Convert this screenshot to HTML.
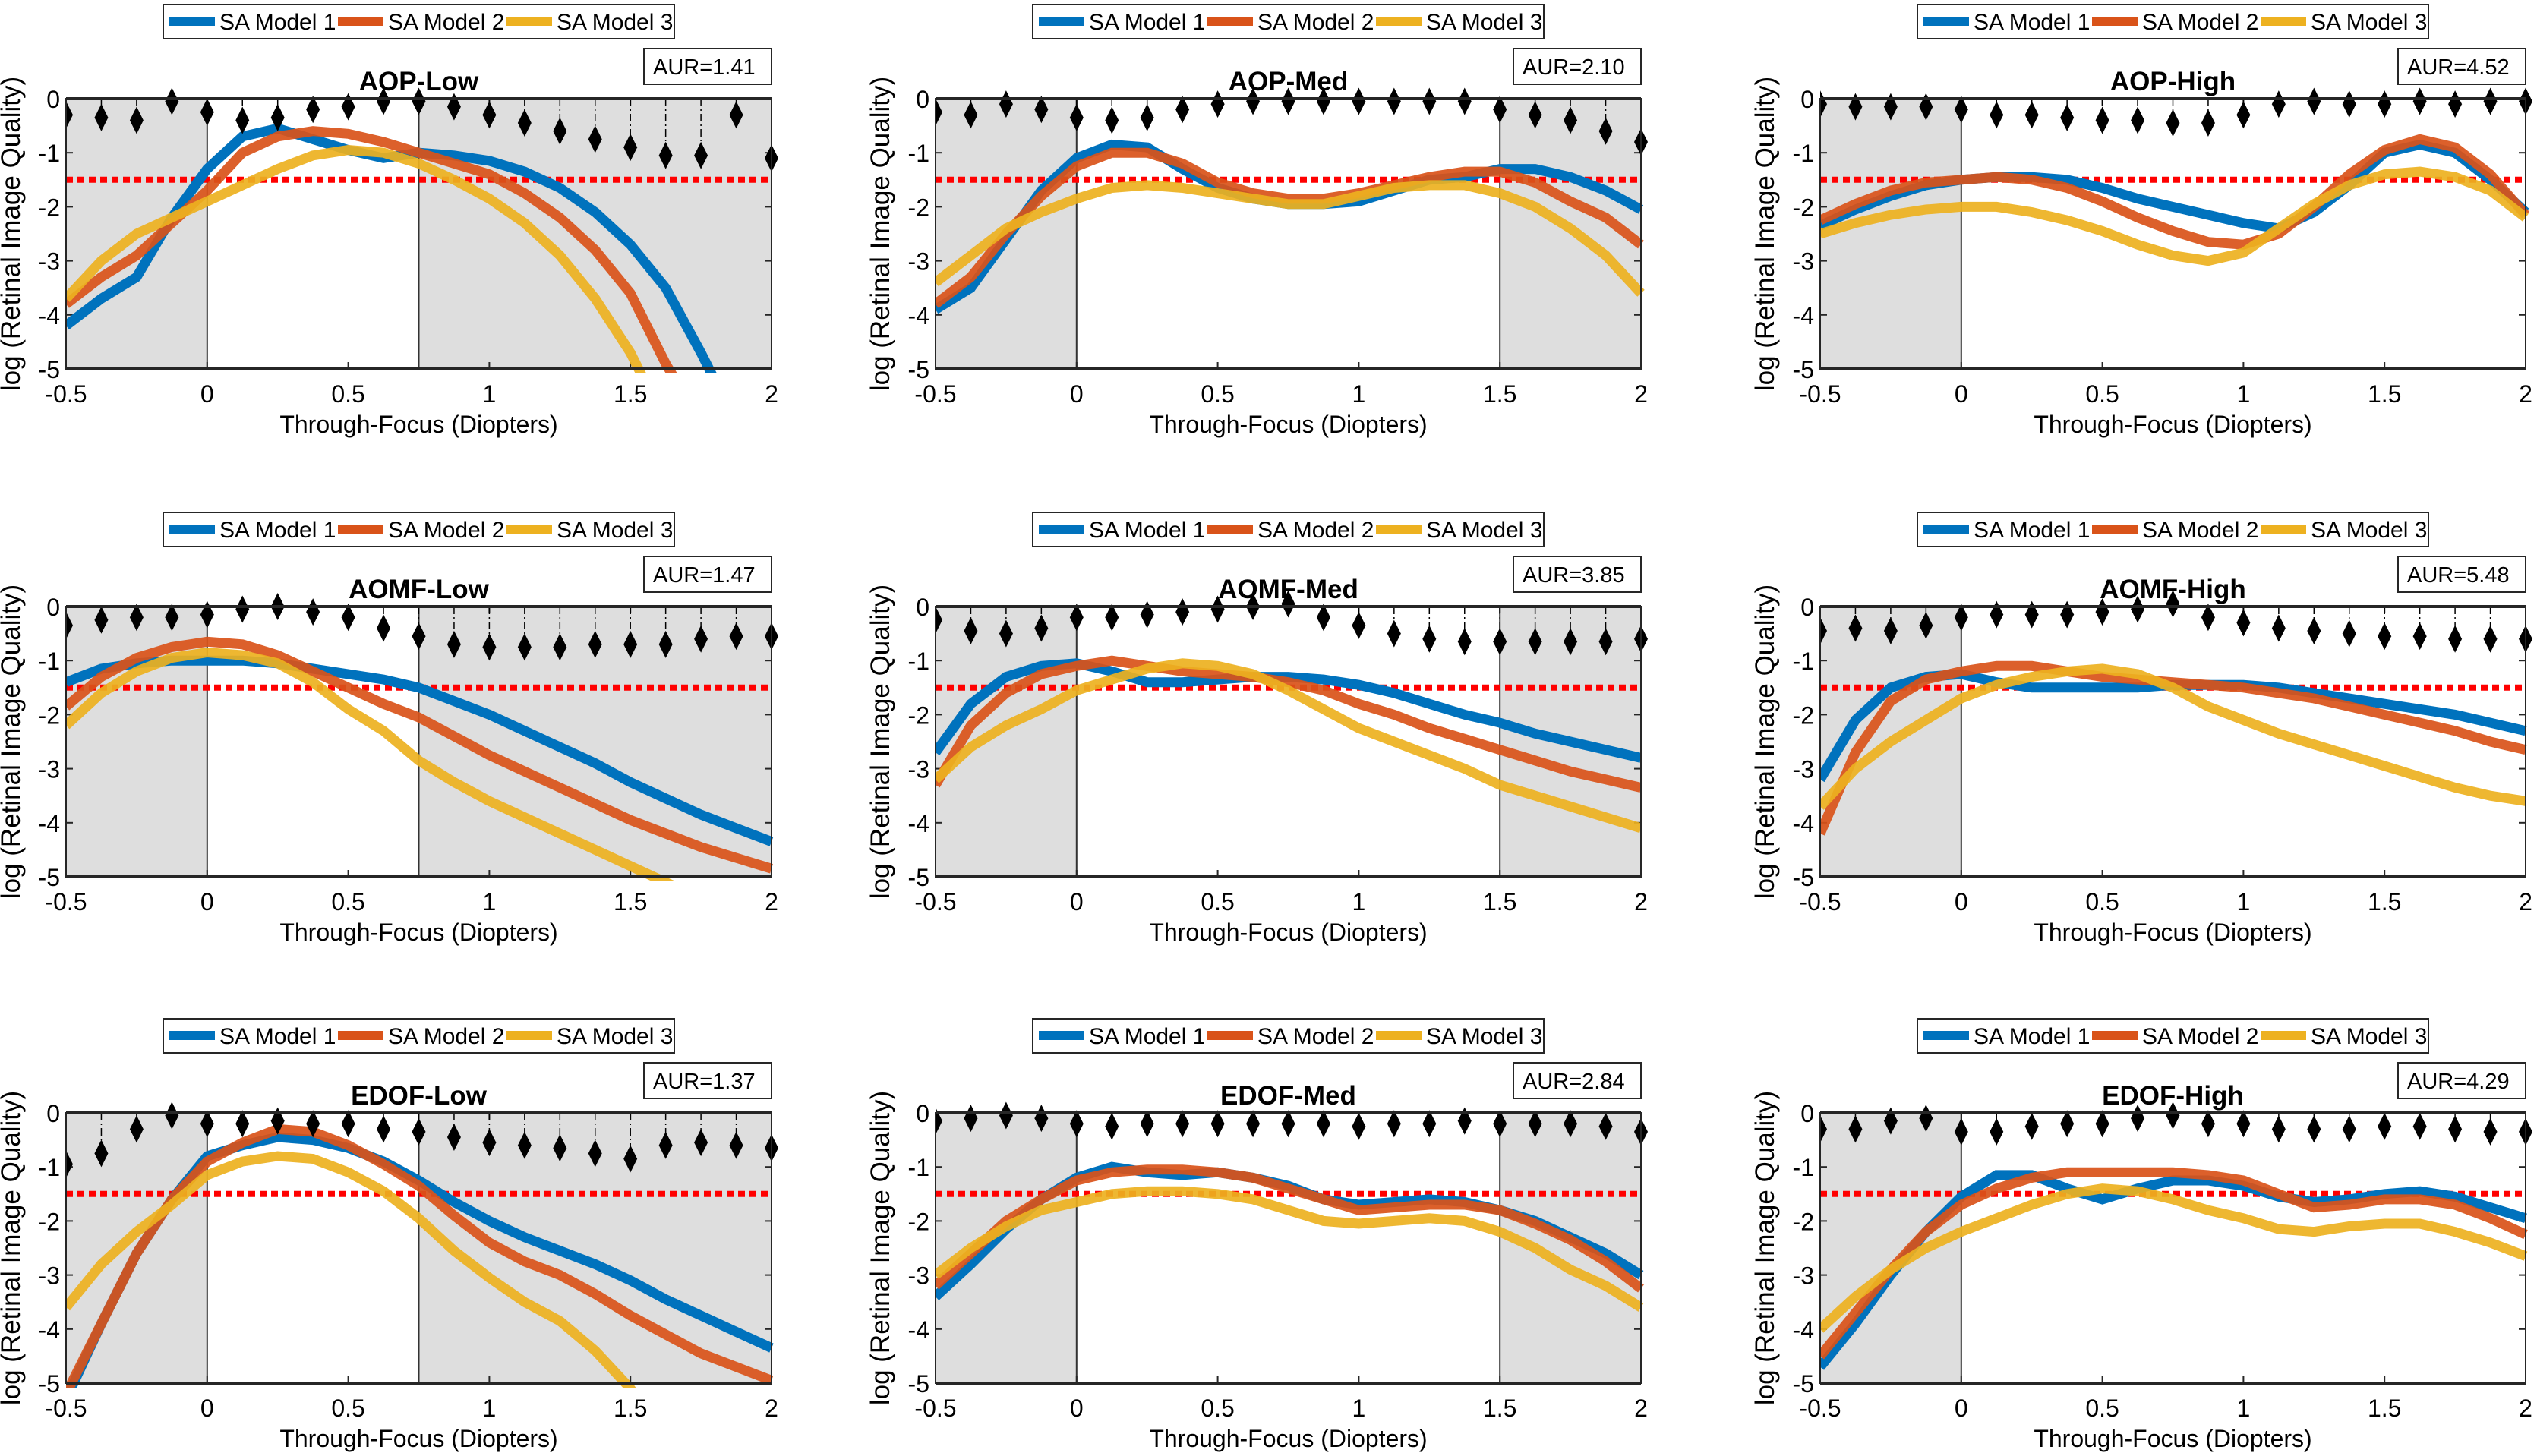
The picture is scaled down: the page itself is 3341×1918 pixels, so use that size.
<!DOCTYPE html>
<html><head><meta charset="utf-8"><style>
html,body{margin:0;padding:0;background:#fff;width:3341px;height:1918px;overflow:hidden;}
svg{display:block;}
text{font-family:"Liberation Sans Narrow","Liberation Sans",sans-serif;fill:#000;}
</style></head><body>
<svg id="fig" width="3341" height="1918" viewBox="0 0 3341 1918" xmlns="http://www.w3.org/2000/svg"></svg>
<script>
const xs = [-0.5,-0.375,-0.25,-0.125,0,0.125,0.25,0.375,0.5,0.625,0.75,0.875,1,1.125,1.25,1.375,1.5,1.625,1.75,1.875,2];
const titles = ["AOP-Low","AOP-Med","AOP-High","AOMF-Low","AOMF-Med","AOMF-High","EDOF-Low","EDOF-Med","EDOF-High"];
const aurLabels = ["AUR=1.41","AUR=2.10","AUR=4.52","AUR=1.47","AUR=3.85","AUR=5.48","AUR=1.37","AUR=2.84","AUR=4.29"];
const shadeRight = [0.75,1.5,null,0.75,1.5,null,0.75,1.5,null];
const xTicks = [-0.5,0,0.5,1,1.5,2];
const xTickLabels = ["-0.5","0","0.5","1","1.5","2"];
const yTicks = [0,-1,-2,-3,-4,-5];
const yTickLabels = ["0","-1","-2","-3","-4","-5"];
const threshold = -1.5;
const seriesNames = ["SA Model 1","SA Model 2","SA Model 3"];
const seriesColors = ["#0072BD","#D95319","#EDB120"];

const model1 = [
 [-4.2,-3.7,-3.3,-2.2,-1.3,-0.7,-0.55,-0.75,-0.95,-1.1,-1.0,-1.05,-1.15,-1.35,-1.65,-2.1,-2.7,-3.5,-4.7,-6,-7],
 [-3.9,-3.5,-2.6,-1.7,-1.1,-0.85,-0.9,-1.3,-1.65,-1.85,-1.95,-1.95,-1.9,-1.7,-1.5,-1.45,-1.3,-1.3,-1.45,-1.7,-2.05],
 [-2.35,-2.05,-1.8,-1.6,-1.5,-1.45,-1.45,-1.5,-1.65,-1.85,-2.0,-2.15,-2.3,-2.4,-2.1,-1.6,-1.0,-0.85,-1.0,-1.5,-2.1],
 [-1.4,-1.15,-1.05,-1.0,-1.0,-1.0,-1.05,-1.15,-1.25,-1.35,-1.5,-1.75,-2.0,-2.3,-2.6,-2.9,-3.25,-3.55,-3.85,-4.1,-4.35],
 [-2.7,-1.8,-1.3,-1.1,-1.05,-1.2,-1.4,-1.4,-1.35,-1.3,-1.3,-1.35,-1.45,-1.6,-1.8,-2.0,-2.15,-2.35,-2.5,-2.65,-2.8],
 [-3.2,-2.1,-1.5,-1.3,-1.25,-1.4,-1.5,-1.5,-1.5,-1.5,-1.45,-1.45,-1.45,-1.5,-1.6,-1.7,-1.8,-1.9,-2.0,-2.15,-2.3],
 [-5.3,-3.9,-2.6,-1.6,-0.8,-0.6,-0.45,-0.5,-0.65,-0.9,-1.25,-1.65,-2.0,-2.3,-2.55,-2.8,-3.1,-3.45,-3.75,-4.05,-4.35],
 [-3.4,-2.8,-2.15,-1.6,-1.2,-1.0,-1.1,-1.15,-1.1,-1.2,-1.35,-1.6,-1.7,-1.65,-1.6,-1.65,-1.8,-2.0,-2.3,-2.6,-3.0],
 [-4.7,-3.9,-3.0,-2.2,-1.55,-1.15,-1.15,-1.4,-1.6,-1.4,-1.25,-1.25,-1.35,-1.55,-1.65,-1.6,-1.5,-1.45,-1.55,-1.75,-1.95]
];
const model2 = [
 [-3.8,-3.3,-2.9,-2.3,-1.7,-1.0,-0.7,-0.6,-0.65,-0.8,-1.0,-1.2,-1.4,-1.75,-2.2,-2.8,-3.6,-4.9,-6,-7,-8],
 [-3.8,-3.3,-2.5,-1.8,-1.25,-1.0,-1.0,-1.2,-1.55,-1.75,-1.85,-1.85,-1.75,-1.6,-1.45,-1.35,-1.35,-1.55,-1.9,-2.2,-2.7],
 [-2.25,-1.95,-1.7,-1.55,-1.5,-1.45,-1.5,-1.65,-1.9,-2.2,-2.45,-2.65,-2.7,-2.5,-2.0,-1.4,-0.95,-0.75,-0.9,-1.4,-2.15],
 [-1.85,-1.3,-0.95,-0.75,-0.65,-0.7,-0.9,-1.2,-1.5,-1.8,-2.05,-2.4,-2.75,-3.05,-3.35,-3.65,-3.95,-4.2,-4.45,-4.65,-4.85],
 [-3.3,-2.2,-1.6,-1.25,-1.1,-1.0,-1.1,-1.2,-1.25,-1.3,-1.4,-1.55,-1.8,-2.0,-2.25,-2.45,-2.65,-2.85,-3.05,-3.2,-3.35],
 [-4.2,-2.7,-1.75,-1.35,-1.2,-1.1,-1.1,-1.2,-1.3,-1.35,-1.4,-1.45,-1.5,-1.6,-1.7,-1.85,-2.0,-2.15,-2.3,-2.5,-2.65],
 [-5.2,-3.9,-2.6,-1.6,-0.9,-0.55,-0.3,-0.35,-0.6,-0.95,-1.35,-1.9,-2.4,-2.75,-3.0,-3.35,-3.75,-4.1,-4.45,-4.7,-4.95],
 [-3.2,-2.6,-2.0,-1.6,-1.25,-1.1,-1.05,-1.05,-1.1,-1.2,-1.4,-1.6,-1.8,-1.75,-1.7,-1.7,-1.8,-2.05,-2.35,-2.75,-3.25],
 [-4.5,-3.7,-2.9,-2.2,-1.7,-1.4,-1.2,-1.1,-1.1,-1.1,-1.1,-1.15,-1.25,-1.5,-1.75,-1.7,-1.6,-1.6,-1.7,-1.95,-2.25]
];
const model3 = [
 [-3.7,-3.0,-2.5,-2.2,-1.9,-1.6,-1.3,-1.05,-0.95,-1.0,-1.2,-1.5,-1.85,-2.3,-2.9,-3.7,-4.7,-6,-7,-8,-9],
 [-3.4,-2.9,-2.4,-2.1,-1.85,-1.65,-1.6,-1.65,-1.75,-1.85,-1.95,-1.95,-1.8,-1.65,-1.6,-1.6,-1.75,-2.0,-2.4,-2.9,-3.6],
 [-2.5,-2.3,-2.15,-2.05,-2.0,-2.0,-2.1,-2.25,-2.45,-2.7,-2.9,-3.0,-2.85,-2.4,-1.95,-1.6,-1.4,-1.35,-1.45,-1.7,-2.2],
 [-2.2,-1.6,-1.2,-0.95,-0.85,-0.9,-1.05,-1.4,-1.9,-2.3,-2.85,-3.25,-3.6,-3.9,-4.2,-4.5,-4.8,-5.1,-5.4,-5.7,-6],
 [-3.2,-2.6,-2.2,-1.9,-1.55,-1.35,-1.15,-1.05,-1.1,-1.25,-1.55,-1.9,-2.25,-2.5,-2.75,-3.0,-3.3,-3.5,-3.7,-3.9,-4.1],
 [-3.7,-3.0,-2.5,-2.1,-1.7,-1.45,-1.3,-1.2,-1.15,-1.25,-1.5,-1.85,-2.1,-2.35,-2.55,-2.75,-2.95,-3.15,-3.35,-3.5,-3.6],
 [-3.6,-2.8,-2.2,-1.7,-1.15,-0.9,-0.8,-0.85,-1.1,-1.45,-1.95,-2.55,-3.05,-3.5,-3.85,-4.4,-5.1,-6,-7,-8,-9],
 [-3.0,-2.5,-2.1,-1.8,-1.65,-1.5,-1.45,-1.45,-1.5,-1.6,-1.8,-2.0,-2.05,-2.0,-1.95,-2.0,-2.2,-2.5,-2.9,-3.2,-3.6],
 [-4.0,-3.4,-2.9,-2.5,-2.2,-1.95,-1.7,-1.5,-1.4,-1.45,-1.6,-1.8,-1.95,-2.15,-2.2,-2.1,-2.05,-2.05,-2.2,-2.4,-2.65]
];
const diamonds = [
 [-0.3,-0.35,-0.4,-0.05,-0.25,-0.4,-0.35,-0.2,-0.15,-0.05,-0.05,-0.15,-0.3,-0.45,-0.6,-0.75,-0.9,-1.05,-1.05,-0.3,-1.1],
 [-0.25,-0.3,-0.1,-0.2,-0.35,-0.4,-0.35,-0.2,-0.1,-0.05,-0.05,-0.05,-0.05,-0.05,-0.05,-0.05,-0.2,-0.3,-0.4,-0.6,-0.8],
 [-0.1,-0.15,-0.15,-0.15,-0.2,-0.3,-0.3,-0.35,-0.4,-0.4,-0.45,-0.45,-0.3,-0.1,-0.05,-0.1,-0.1,-0.05,-0.1,-0.05,-0.05],
 [-0.35,-0.25,-0.2,-0.2,-0.15,-0.05,0,-0.1,-0.2,-0.4,-0.55,-0.7,-0.75,-0.75,-0.75,-0.7,-0.7,-0.7,-0.6,-0.55,-0.55],
 [-0.25,-0.45,-0.5,-0.4,-0.2,-0.2,-0.15,-0.1,-0.05,0,0.05,-0.2,-0.35,-0.5,-0.6,-0.65,-0.65,-0.65,-0.65,-0.65,-0.6],
 [-0.45,-0.4,-0.45,-0.35,-0.2,-0.15,-0.15,-0.15,-0.1,-0.05,0.05,-0.2,-0.3,-0.4,-0.45,-0.5,-0.55,-0.55,-0.6,-0.6,-0.6],
 [-0.95,-0.75,-0.3,-0.05,-0.2,-0.2,-0.15,-0.2,-0.2,-0.3,-0.35,-0.45,-0.55,-0.6,-0.65,-0.75,-0.85,-0.6,-0.55,-0.6,-0.65],
 [-0.15,-0.1,-0.05,-0.1,-0.2,-0.25,-0.2,-0.2,-0.2,-0.2,-0.2,-0.2,-0.25,-0.2,-0.2,-0.15,-0.2,-0.2,-0.2,-0.25,-0.35],
 [-0.3,-0.3,-0.15,-0.1,-0.35,-0.35,-0.25,-0.2,-0.2,-0.1,-0.05,-0.2,-0.2,-0.3,-0.3,-0.3,-0.25,-0.25,-0.3,-0.35,-0.35]
];

const NS = "http://www.w3.org/2000/svg";
const svg = document.getElementById('fig');
function mk(tag, attrs, parent){
  const e = document.createElementNS(NS, tag);
  for (const k in attrs) e.setAttribute(k, attrs[k]);
  (parent||svg).appendChild(e);
  return e;
}
const colX = [87, 1232, 2397];
const rowY = [130, 799, 1466];
const PW = 929, PH = 356;
const defs = mk('defs', {});

for (let p = 0; p < 9; p++) {
  const L = colX[p % 3], T = rowY[Math.floor(p / 3)];
  const g = mk('g', {});
  
  
  const xS = v => L + (v + 0.5) / 2.5 * PW;
  const yS = v => T + (0 - v) / 5 * PH;

  const lg = mk('g', {}, g);
  
  
  const lx = L + 128, ly = T - 124;
  mk('rect', {x: lx, y: ly, width: 673, height: 45, fill: '#fff', stroke: '#262626', 'stroke-width': 2}, lg);
  for (let s = 0; s < 3; s++) {
    const ex = lx + 8 + s * 222;
    const le = mk('g', {}, lg);
    
    
    mk('line', {x1: ex, y1: ly + 22, x2: ex + 60, y2: ly + 22, stroke: seriesColors[s], 'stroke-width': 12}, le);
    const t = mk('text', {x: ex + 66, y: ly + 33, 'font-size': 30}, le);
    t.textContent = seriesNames[s];
  }
  const ab = mk('g', {}, g);
  
  
  mk('rect', {x: L + 761, y: T - 66, width: 168, height: 47, fill: '#fff', stroke: '#262626', 'stroke-width': 2}, ab);
  const at = mk('text', {x: L + 773, y: T - 32, 'font-size': 29}, ab);
  at.textContent = aurLabels[p];
  const tt = mk('text', {x: L + PW / 2, y: T - 11, 'font-size': 35, 'font-weight': 'bold', 'text-anchor': 'middle'}, g);
  
  
  tt.textContent = titles[p];

  mk('rect', {x: L, y: T, width: PW, height: PH, fill: '#fff'}, g);
  const sh1 = mk('rect', {x: xS(-0.5), y: T, width: xS(0) - xS(-0.5), height: PH, fill: '#dedede'}, g);
  
  
  mk('line', {x1: xS(0), y1: T, x2: xS(0), y2: T + PH, stroke: '#333', 'stroke-width': 2}, g);
  if (shadeRight[p] !== null) {
    const sh2 = mk('rect', {x: xS(shadeRight[p]), y: T, width: xS(2) - xS(shadeRight[p]), height: PH, fill: '#dedede'}, g);
    
    
    mk('line', {x1: xS(shadeRight[p]), y1: T, x2: xS(shadeRight[p]), y2: T + PH, stroke: '#333', 'stroke-width': 2}, g);
  }
  for (let i = 0; i < xTicks.length; i++) {
    const x = xS(xTicks[i]);
    mk('line', {x1: x, y1: T + PH, x2: x, y2: T + PH - 9, stroke: '#262626', 'stroke-width': 2}, g);
    mk('line', {x1: x, y1: T, x2: x, y2: T + 9, stroke: '#262626', 'stroke-width': 2}, g);
    const tl = mk('text', {x: x, y: T + PH + 44, 'font-size': 32, 'text-anchor': 'middle'}, g);
    
    
    tl.textContent = xTickLabels[i];
  }
  for (let i = 0; i < yTicks.length; i++) {
    const y = yS(yTicks[i]);
    mk('line', {x1: L, y1: y, x2: L + 9, y2: y, stroke: '#262626', 'stroke-width': 2}, g);
    mk('line', {x1: L + PW, y1: y, x2: L + PW - 9, y2: y, stroke: '#262626', 'stroke-width': 2}, g);
    const tl = mk('text', {x: L - 8, y: y + 12, 'font-size': 32, 'text-anchor': 'end'}, g);
    
    
    tl.textContent = yTickLabels[i];
  }
  const xl = mk('text', {x: L + PW / 2, y: T + PH + 84, 'font-size': 32, 'text-anchor': 'middle'}, g);
  
  
  xl.textContent = 'Through-Focus (Diopters)';
  const ylx = L - 61, yly = T + PH / 2;
  const yl = mk('text', {x: ylx, y: yly, 'font-size': 35, 'text-anchor': 'middle', transform: 'rotate(-90 ' + ylx + ' ' + yly + ')', style: 'font-family:"Liberation Sans",sans-serif'}, g);
  
  
  yl.textContent = 'log (Retinal Image Quality)';

  const cp = mk('clipPath', {id: 'c' + p}, defs);
  mk('rect', {x: L, y: T - 30, width: PW + 20, height: PH + 36}, cp);
  const plot = mk('g', {'clip-path': 'url(#c' + p + ')'}, g);

  const dv = diamonds[p];
  for (let i = 0; i < xs.length; i++) {
    const x = xS(xs[i]);
    const st = mk('line', {x1: x, y1: yS(0), x2: x, y2: yS(dv[i]), stroke: '#000', 'stroke-width': 1.5, 'stroke-dasharray': '10 4 2 4'}, plot);
    
    
  }
  const th = mk('line', {x1: L, y1: yS(threshold), x2: L + PW, y2: yS(threshold), stroke: '#ff0000', 'stroke-width': 8, 'stroke-dasharray': '9 6'}, plot);
  
  
  const sets = [model1[p], model2[p], model3[p]];
  for (let s = 0; s < 3; s++) {
    const pts = xs.map((x, i) => xS(x).toFixed(1) + ',' + yS(sets[s][i]).toFixed(1)).join(' ');
    const pl = mk('polyline', {points: pts, fill: 'none', stroke: seriesColors[s], 'stroke-width': 13, 'stroke-linejoin': 'miter', opacity: s === 0 ? 1 : 0.92}, plot);
    
    
  }
  for (let i = 0; i < xs.length; i++) {
    const x = xS(xs[i]), y = yS(dv[i]);
    const d = mk('path', {d: 'M' + x + ' ' + (y - 18) + ' L' + (x + 9) + ' ' + y + ' L' + x + ' ' + (y + 18) + ' L' + (x - 9) + ' ' + y + ' Z', fill: '#000'}, plot);
    
    
  }
  const bx = mk('rect', {x: L, y: T, width: PW, height: PH, fill: 'none', stroke: '#262626', 'stroke-width': 2}, g);
  
  
  mk('line', {x1: L, y1: T, x2: L + PW, y2: T, stroke: '#262626', 'stroke-width': 4}, g);
  mk('line', {x1: L, y1: T + PH, x2: L + PW, y2: T + PH, stroke: '#262626', 'stroke-width': 4}, g);
}
</script>
</body></html>
